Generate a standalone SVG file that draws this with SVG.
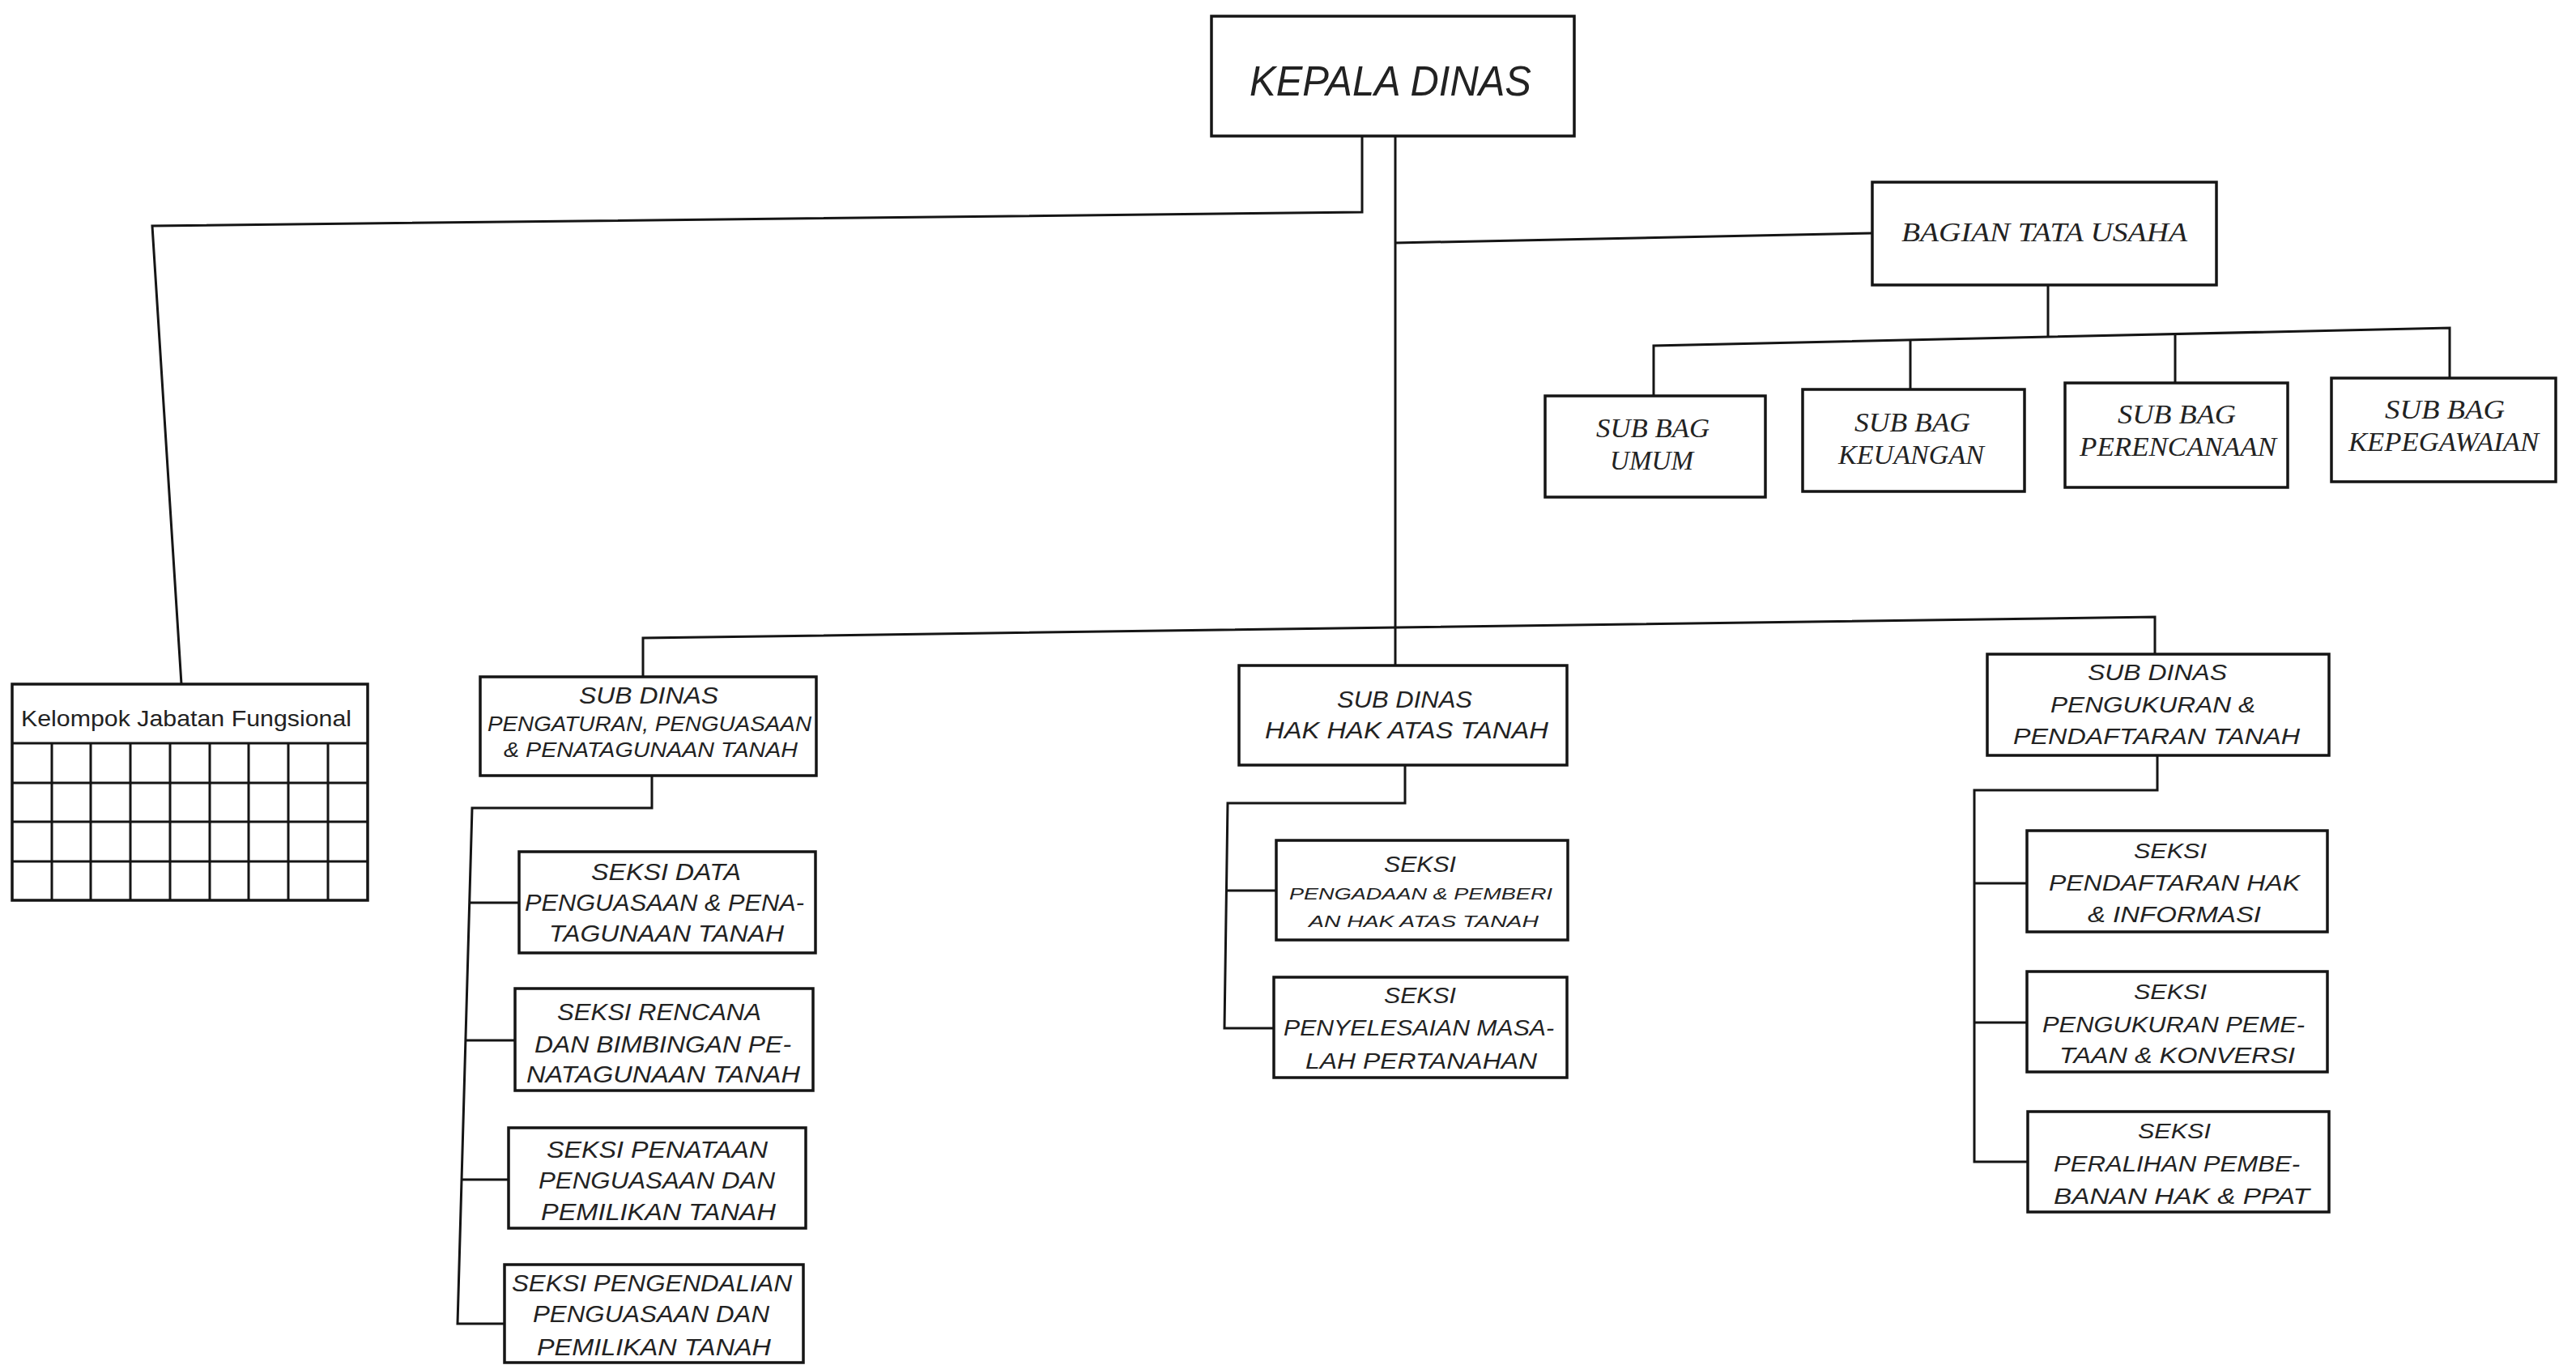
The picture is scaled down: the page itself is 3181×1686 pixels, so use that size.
<svg xmlns="http://www.w3.org/2000/svg" width="3181" height="1686" viewBox="0 0 3181 1686">
  <style>
    .box { fill: #ffffff; stroke: #151515; stroke-width: 3.5; }
    .grid { fill: none; stroke: #151515; stroke-width: 3; }
    .ln { fill: none; stroke: #151515; stroke-width: 3; stroke-linejoin: miter; }
    .sans { font-family: "Liberation Sans", Arial, sans-serif; font-style: italic; fill: #222222; }
    .serif { font-family: "Liberation Serif", "Times New Roman", serif; font-style: italic; fill: #222222; }
    .plain { font-family: "Liberation Sans", Arial, sans-serif; fill: #222222; }
  </style>

  <rect x="0" y="0" width="3181" height="1686" fill="#ffffff"/>

  <!-- connectors -->
  <g id="connectors">
    <!-- head to functional group -->
    <path class="ln" d="M1682 168 V262 L188 279 L224 845"/>
    <!-- main trunk -->
    <path class="ln" d="M1723 168 V822"/>
    <!-- trunk to administration -->
    <path class="ln" d="M1723 300 L2312 288"/>
    <!-- administration to sub sections -->
    <path class="ln" d="M2529 352 V416"/>
    <path class="ln" d="M2042 489 V427 L3025 405 V467"/>
    <path class="ln" d="M2359 420 V481"/>
    <path class="ln" d="M2686 413 V473"/>
    <!-- trunk to sub-offices -->
    <path class="ln" d="M794 836 V788 L2661 762 V808"/>
    <!-- left column -->
    <path class="ln" d="M805 958 V998 H583 L565 1635 H623"/>
    <path class="ln" d="M580 1115 H641"/>
    <path class="ln" d="M575 1285 H636"/>
    <path class="ln" d="M570 1457 H628"/>
    <!-- middle column -->
    <path class="ln" d="M1735 945 V992 H1516 L1512 1270 H1573"/>
    <path class="ln" d="M1515 1100 H1576"/>
    <!-- right column -->
    <path class="ln" d="M2664 933 V976 H2438 V1435 H2504"/>
    <path class="ln" d="M2438 1091 H2503"/>
    <path class="ln" d="M2438 1263 H2503"/>
  </g>

  <!-- head -->
  <g id="kepala-dinas">
    <rect class="box" x="1496" y="20" width="448" height="148"/>
    <text class="sans" x="1543" y="118" font-size="52" textLength="348" lengthAdjust="spacingAndGlyphs">KEPALA DINAS</text>
  </g>

  <!-- functional group with grid -->
  <g id="kelompok-jabatan-fungsional">
    <rect class="box" x="15" y="845" width="439" height="267"/>
    <text class="plain" x="26" y="897" font-size="28" textLength="408" lengthAdjust="spacingAndGlyphs">Kelompok Jabatan Fungsional</text>
    <path class="grid" d="M15 918 H454 M15 967 H454 M15 1015 H454 M15 1064 H454
      M64 918 V1112 M112 918 V1112 M161 918 V1112 M210 918 V1112 M259 918 V1112
      M307 918 V1112 M356 918 V1112 M405 918 V1112"/>
  </g>

  <!-- administration -->
  <g id="bagian-tata-usaha">
    <rect class="box" x="2312" y="225" width="425" height="127"/>
    <text class="serif" x="2348" y="298" font-size="34" textLength="353" lengthAdjust="spacingAndGlyphs">BAGIAN TATA USAHA</text>
  </g>
  <g id="sub-bag-umum">
    <rect class="box" x="1908" y="489" width="272" height="125"/>
    <text class="serif" x="1971" y="540" font-size="34" textLength="140" lengthAdjust="spacingAndGlyphs">SUB BAG</text>
    <text class="serif" x="1988" y="580" font-size="34" textLength="103" lengthAdjust="spacingAndGlyphs">UMUM</text>
  </g>
  <g id="sub-bag-keuangan">
    <rect class="box" x="2226" y="481" width="274" height="126"/>
    <text class="serif" x="2290" y="533" font-size="34" textLength="143" lengthAdjust="spacingAndGlyphs">SUB BAG</text>
    <text class="serif" x="2270" y="573" font-size="34" textLength="180" lengthAdjust="spacingAndGlyphs">KEUANGAN</text>
  </g>
  <g id="sub-bag-perencanaan">
    <rect class="box" x="2550" y="473" width="275" height="129"/>
    <text class="serif" x="2615" y="523" font-size="34" textLength="146" lengthAdjust="spacingAndGlyphs">SUB BAG</text>
    <text class="serif" x="2568" y="563" font-size="34" textLength="243" lengthAdjust="spacingAndGlyphs">PERENCANAAN</text>
  </g>
  <g id="sub-bag-kepegawaian">
    <rect class="box" x="2879" y="467" width="277" height="128"/>
    <text class="serif" x="2945" y="517" font-size="34" textLength="148" lengthAdjust="spacingAndGlyphs">SUB BAG</text>
    <text class="serif" x="2900" y="557" font-size="34" textLength="235" lengthAdjust="spacingAndGlyphs">KEPEGAWAIAN</text>
  </g>

  <!-- sub-office: regulation, control and land use -->
  <g id="sub-dinas-pengaturan">
    <rect class="box" x="593" y="836" width="415" height="122"/>
    <text class="sans" x="715" y="869" font-size="30" textLength="172" lengthAdjust="spacingAndGlyphs">SUB DINAS</text>
    <text class="sans" x="602" y="903" font-size="25" textLength="400" lengthAdjust="spacingAndGlyphs">PENGATURAN, PENGUASAAN</text>
    <text class="sans" x="622" y="935" font-size="25" textLength="363" lengthAdjust="spacingAndGlyphs">&amp; PENATAGUNAAN TANAH</text>
  </g>
  <g id="seksi-data">
    <rect class="box" x="641" y="1052" width="366" height="125"/>
    <text class="sans" x="730" y="1087" font-size="29" textLength="185" lengthAdjust="spacingAndGlyphs">SEKSI DATA</text>
    <text class="sans" x="648" y="1125" font-size="29" textLength="345" lengthAdjust="spacingAndGlyphs">PENGUASAAN &amp; PENA-</text>
    <text class="sans" x="678" y="1163" font-size="29" textLength="290" lengthAdjust="spacingAndGlyphs">TAGUNAAN TANAH</text>
  </g>
  <g id="seksi-rencana">
    <rect class="box" x="636" y="1221" width="368" height="126"/>
    <text class="sans" x="688" y="1260" font-size="29" textLength="252" lengthAdjust="spacingAndGlyphs">SEKSI RENCANA</text>
    <text class="sans" x="660" y="1300" font-size="29" textLength="317" lengthAdjust="spacingAndGlyphs">DAN BIMBINGAN PE-</text>
    <text class="sans" x="650" y="1337" font-size="29" textLength="338" lengthAdjust="spacingAndGlyphs">NATAGUNAAN TANAH</text>
  </g>
  <g id="seksi-penataan">
    <rect class="box" x="628" y="1393" width="367" height="124"/>
    <text class="sans" x="675" y="1430" font-size="29" textLength="273" lengthAdjust="spacingAndGlyphs">SEKSI PENATAAN</text>
    <text class="sans" x="665" y="1468" font-size="29" textLength="292" lengthAdjust="spacingAndGlyphs">PENGUASAAN DAN</text>
    <text class="sans" x="668" y="1507" font-size="29" textLength="290" lengthAdjust="spacingAndGlyphs">PEMILIKAN TANAH</text>
  </g>
  <g id="seksi-pengendalian">
    <rect class="box" x="623" y="1562" width="369" height="121"/>
    <text class="sans" x="632" y="1595" font-size="29" textLength="346" lengthAdjust="spacingAndGlyphs">SEKSI PENGENDALIAN</text>
    <text class="sans" x="658" y="1633" font-size="29" textLength="292" lengthAdjust="spacingAndGlyphs">PENGUASAAN DAN</text>
    <text class="sans" x="663" y="1674" font-size="29" textLength="289" lengthAdjust="spacingAndGlyphs">PEMILIKAN TANAH</text>
  </g>

  <!-- sub-office: land rights -->
  <g id="sub-dinas-hak">
    <rect class="box" x="1530" y="822" width="405" height="123"/>
    <text class="sans" x="1651" y="874" font-size="30" textLength="167" lengthAdjust="spacingAndGlyphs">SUB DINAS</text>
    <text class="sans" x="1562" y="912" font-size="29" textLength="350" lengthAdjust="spacingAndGlyphs">HAK HAK ATAS TANAH</text>
  </g>
  <g id="seksi-pengadaan">
    <rect class="box" x="1576" y="1038" width="360" height="123"/>
    <text class="sans" x="1709" y="1077" font-size="27" textLength="89" lengthAdjust="spacingAndGlyphs">SEKSI</text>
    <text class="sans" x="1592" y="1111" font-size="21" textLength="325" lengthAdjust="spacingAndGlyphs">PENGADAAN &amp; PEMBERI</text>
    <text class="sans" x="1616" y="1145" font-size="21" textLength="284" lengthAdjust="spacingAndGlyphs">AN HAK ATAS TANAH</text>
  </g>
  <g id="seksi-penyelesaian">
    <rect class="box" x="1573" y="1207" width="362" height="124"/>
    <text class="sans" x="1709" y="1239" font-size="27" textLength="89" lengthAdjust="spacingAndGlyphs">SEKSI</text>
    <text class="sans" x="1585" y="1279" font-size="27" textLength="334" lengthAdjust="spacingAndGlyphs">PENYELESAIAN MASA-</text>
    <text class="sans" x="1612" y="1320" font-size="27" textLength="286" lengthAdjust="spacingAndGlyphs">LAH PERTANAHAN</text>
  </g>

  <!-- sub-office: survey and registration -->
  <g id="sub-dinas-pengukuran">
    <rect class="box" x="2454" y="808" width="422" height="125"/>
    <text class="sans" x="2578" y="840" font-size="27" textLength="172" lengthAdjust="spacingAndGlyphs">SUB DINAS</text>
    <text class="sans" x="2532" y="880" font-size="27" textLength="253" lengthAdjust="spacingAndGlyphs">PENGUKURAN &amp;</text>
    <text class="sans" x="2486" y="919" font-size="27" textLength="354" lengthAdjust="spacingAndGlyphs">PENDAFTARAN TANAH</text>
  </g>
  <g id="seksi-pendaftaran-hak">
    <rect class="box" x="2503" y="1026" width="371" height="125"/>
    <text class="sans" x="2635" y="1060" font-size="25" textLength="90" lengthAdjust="spacingAndGlyphs">SEKSI</text>
    <text class="sans" x="2530" y="1100" font-size="27" textLength="310" lengthAdjust="spacingAndGlyphs">PENDAFTARAN HAK</text>
    <text class="sans" x="2578" y="1139" font-size="27" textLength="214" lengthAdjust="spacingAndGlyphs">&amp; INFORMASI</text>
  </g>
  <g id="seksi-pengukuran-pemetaan">
    <rect class="box" x="2503" y="1200" width="371" height="124"/>
    <text class="sans" x="2635" y="1234" font-size="25" textLength="90" lengthAdjust="spacingAndGlyphs">SEKSI</text>
    <text class="sans" x="2522" y="1275" font-size="27" textLength="324" lengthAdjust="spacingAndGlyphs">PENGUKURAN PEME-</text>
    <text class="sans" x="2543" y="1313" font-size="27" textLength="291" lengthAdjust="spacingAndGlyphs">TAAN &amp; KONVERSI</text>
  </g>
  <g id="seksi-peralihan">
    <rect class="box" x="2504" y="1373" width="372" height="124"/>
    <text class="sans" x="2640" y="1406" font-size="25" textLength="90" lengthAdjust="spacingAndGlyphs">SEKSI</text>
    <text class="sans" x="2536" y="1447" font-size="27" textLength="304" lengthAdjust="spacingAndGlyphs">PERALIHAN PEMBE-</text>
    <text class="sans" x="2536" y="1487" font-size="27" textLength="316" lengthAdjust="spacingAndGlyphs">BANAN HAK &amp; PPAT</text>
  </g>
</svg>
